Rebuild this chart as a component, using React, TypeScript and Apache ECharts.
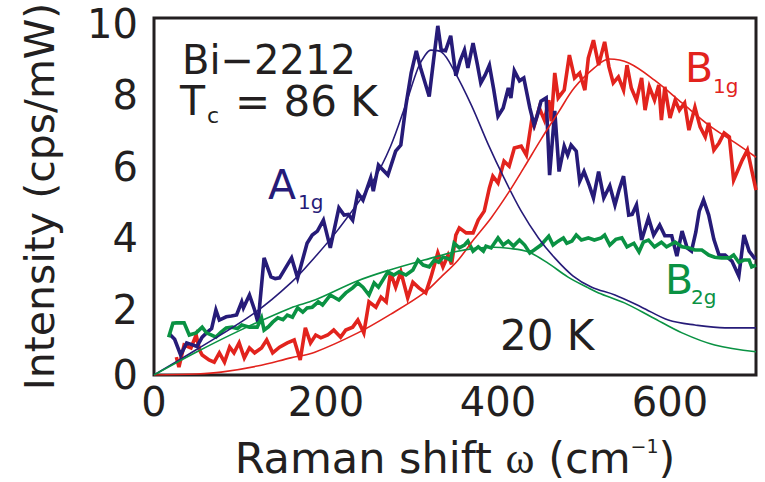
import React, { useEffect, useRef } from "react";
import * as echarts from "echarts";

// Raman spectra of Bi-2212 at 20 K: measured points [ω (cm^-1), intensity (cps/mW)]
const a1gData: number[][] = [
  [18, 1.15], [24, 1.0], [31, 0.56], [38, 0.9], [44, 0.85], [50, 0.8], [56, 1.06], [62, 1.2],
  [67, 1.3], [72, 1.82], [76, 1.54], [84, 1.63], [90, 1.65], [96, 1.68], [102, 2.05], [104, 1.88],
  [111, 2.24], [117, 1.82], [121, 1.46], [128, 3.28], [136, 2.75], [141, 2.7], [146, 2.72],
  [153, 3.0], [160, 3.28], [167, 2.72], [172, 3.16], [178, 3.69], [184, 3.92], [190, 4.03],
  [197, 4.34], [205, 3.56], [215, 4.68], [221, 4.48], [226, 4.5], [231, 4.34], [237, 5.1],
  [243, 4.9], [252, 5.52], [255, 5.15], [261, 5.88], [266, 5.75], [272, 5.6], [281, 6.27],
  [287, 6.44], [293, 7.56], [299, 8.46], [305, 9.08], [310, 8.6], [315, 8.2], [320, 7.8],
  [325, 8.8], [330, 9.78], [334, 9.1], [339, 9.08], [345, 9.5], [351, 8.38], [356, 8.8],
  [361, 9.1], [365, 8.6], [371, 9.3], [376, 8.7], [380, 8.18], [385, 8.4], [390, 8.68],
  [395, 8.0], [400, 7.25], [406, 7.48], [412, 8.04], [415, 7.76], [419, 8.52], [425, 8.24],
  [430, 8.32], [437, 7.48], [442, 7.0], [446, 7.3], [450, 7.67], [456, 7.76], [460, 5.6],
  [466, 7.4], [471, 5.7], [477, 6.41], [481, 6.16], [485, 6.44], [491, 6.27], [495, 5.43],
  [500, 5.7], [506, 5.32], [511, 4.96], [517, 5.7], [523, 4.96], [530, 5.3], [536, 4.76],
  [541, 5.2], [546, 5.57], [552, 4.48], [556, 4.5], [561, 4.76], [567, 3.78], [575, 4.4],
  [581, 3.92], [588, 4.2], [594, 3.9], [602, 3.9], [608, 3.33], [614, 4.03], [620, 3.56],
  [625, 3.47], [630, 4.0], [634, 4.59], [639, 4.9], [645, 4.48], [651, 3.8], [657, 3.36],
  [664, 3.36], [672, 3.19], [680, 2.77], [686, 3.92], [692, 3.47], [698, 3.28], [700, 3.3],
];

const b1gData: number[][] = [
  [26, 0.5], [29, 0.22], [35, 0.84], [43, 0.76], [49, 1.12], [53, 0.7], [56, 0.56], [64, 0.42],
  [70, 0.36], [76, 0.62], [82, 0.36], [88, 0.78], [93, 0.62], [99, 0.9], [105, 0.48], [111, 0.76],
  [117, 0.62], [125, 0.76], [131, 0.98], [138, 0.62], [146, 0.78], [155, 0.9], [163, 0.98],
  [170, 0.42], [176, 1.32], [182, 0.9], [188, 1.12], [194, 1.04], [202, 1.12], [209, 1.26],
  [217, 1.06], [223, 1.26], [231, 1.34], [237, 1.54], [244, 1.18], [250, 2.05], [258, 1.9],
  [264, 2.18], [270, 2.05], [275, 2.86], [281, 2.46], [287, 2.89], [295, 2.16], [301, 2.6],
  [308, 2.44], [316, 2.3], [322, 2.74], [330, 3.42], [336, 3.03], [342, 3.36], [346, 3.1],
  [351, 3.92], [355, 4.12], [363, 3.98], [371, 3.98], [377, 4.34], [384, 4.59], [390, 5.24],
  [394, 5.57], [400, 5.38], [407, 5.99], [413, 5.85], [419, 6.36], [427, 6.41], [433, 6.16],
  [439, 7.11], [442, 6.97], [448, 7.48], [454, 7.14], [459, 7.7], [462, 7.11], [466, 8.46],
  [470, 7.76], [477, 7.98], [483, 8.96], [489, 8.32], [495, 8.46], [501, 7.98], [505, 8.88],
  [511, 9.38], [517, 8.68], [524, 9.33], [529, 8.63], [534, 8.18], [540, 8.35], [546, 7.98],
  [550, 8.68], [555, 8.04], [561, 7.7], [567, 8.32], [571, 7.42], [576, 8.07], [582, 7.7],
  [587, 8.12], [590, 7.14], [594, 8.07], [600, 7.2], [606, 7.7], [611, 7.42], [617, 7.62],
  [622, 6.86], [629, 7.5], [635, 6.95], [641, 6.67], [645, 7.06], [651, 6.3], [657, 6.5],
  [663, 6.78], [669, 6.67], [674, 5.46], [684, 6.02], [690, 6.3], [695, 5.74], [700, 5.18],
];

const b2gData: number[][] = [
  [17, 1.06], [22, 1.45], [26, 1.46], [35, 1.46], [41, 1.12], [49, 1.18], [56, 1.34], [61, 1.18],
  [67, 1.12], [72, 1.06], [78, 1.2], [84, 1.32], [91, 1.34], [97, 1.3], [102, 1.4], [111, 1.34],
  [120, 1.34], [125, 1.6], [128, 1.26], [133, 1.35], [138, 1.48], [144, 1.6], [150, 1.55],
  [155, 1.68], [161, 1.62], [167, 1.88], [173, 1.76], [178, 1.88], [184, 1.9], [191, 2.05],
  [196, 1.96], [205, 2.24], [215, 2.1], [223, 2.3], [231, 2.44], [237, 2.58], [243, 2.46],
  [250, 2.24], [256, 2.58], [261, 2.46], [272, 2.89], [279, 2.8], [285, 2.89], [293, 2.8],
  [301, 2.94], [307, 3.22], [313, 3.08], [320, 3.03], [326, 3.22], [331, 3.16], [336, 3.3],
  [340, 3.28], [345, 3.22], [349, 3.69], [355, 3.56], [361, 3.64], [365, 3.75], [371, 3.47],
  [377, 3.59], [383, 3.47], [386, 3.61], [392, 3.56], [400, 3.84], [406, 3.64], [412, 3.75],
  [418, 3.61], [425, 3.78], [431, 3.64], [437, 3.42], [442, 3.5], [450, 3.64], [459, 3.89],
  [464, 3.64], [470, 3.75], [476, 3.84], [480, 3.69], [486, 3.75], [491, 3.92], [497, 3.78],
  [505, 3.84], [512, 3.78], [520, 3.84], [524, 3.92], [530, 3.64], [537, 3.8], [544, 3.84],
  [550, 3.59], [558, 3.69], [564, 3.45], [569, 3.72], [575, 3.78], [582, 3.59], [590, 3.72],
  [596, 3.59], [606, 3.72], [614, 3.59], [622, 3.56], [629, 3.5], [637, 3.5], [645, 3.36],
  [652, 3.3], [660, 3.28], [669, 3.28], [674, 3.36], [680, 3.16], [686, 3.22], [692, 3.22],
  [695, 3.03], [700, 3.08],
];

// Model fits for each symmetry channel
const a1gFit: number[][] = [
  [0, 0], [50, 0.72], [117, 1.74], [160, 2.6], [187, 3.3], [215, 4.1], [255, 5.45], [275, 6.4],
  [293, 7.6], [307, 8.6], [315, 8.95], [322, 9.1], [334, 9.05], [349, 8.52], [369, 7.56],
  [389, 6.44], [407, 5.52], [427, 4.59], [447, 3.84], [466, 3.28], [487, 2.78], [509, 2.46],
  [536, 2.24], [567, 1.9], [598, 1.54], [629, 1.4], [664, 1.32], [700, 1.32],
];

const b1gFit: number[][] = [
  [0, 0], [50, 0.03], [78, 0.08], [120, 0.25], [159, 0.48], [187, 0.64], [237, 1.18], [275, 1.7],
  [314, 2.3], [334, 2.75], [353, 3.2], [372, 3.8], [392, 4.4], [412, 5.1], [430, 5.8], [450, 6.6],
  [470, 7.35], [489, 8.05], [512, 8.6], [529, 8.85], [552, 8.74], [582, 8.26], [614, 7.62],
  [645, 7.0], [676, 6.5], [700, 6.1],
];

const b2gFit: number[][] = [
  [0, 0], [50, 0.65], [100, 1.25], [159, 1.88], [187, 2.1], [237, 2.64], [275, 2.95], [314, 3.22],
  [350, 3.45], [377, 3.56], [395, 3.58], [412, 3.55], [435, 3.45], [459, 3.12], [481, 2.75],
  [505, 2.44], [517, 2.3], [547, 2.02], [579, 1.62], [614, 1.18], [652, 0.84], [700, 0.65],
];

const NAVY = "#261b78";
const RED = "#e2231d";
const GREEN = "#0a9243";
const INK = "#231f20";
const FONT = "DejaVu Sans";

const dataLine = (name: string, data: number[][], color: string, z: number) => ({
  name,
  type: "line",
  data,
  showSymbol: false,
  symbol: "none",
  lineStyle: { width: 3.6, color, join: "miter" },
  itemStyle: { color },
  z,
});

const fitLine = (name: string, data: number[][], color: string) => ({
  name,
  type: "line",
  data,
  smooth: 0.35,
  showSymbol: false,
  symbol: "none",
  lineStyle: { width: 1.6, color },
  itemStyle: { color },
  z: 10,
});

// Free text placed by its left edge and vertical centre
const text = (x: number, y: number, str: string, color: string, size: number) => ({
  type: "text",
  x,
  y,
  style: {
    text: str,
    font: `${size}px "${FONT}"`,
    lineHeight: Math.round(size * 0.85),
    fill: color,
    textAlign: "left",
    textVerticalAlign: "middle",
  },
  z: 20,
});

export default function App() {
  const ref = useRef<HTMLDivElement>(null);

  useEffect(() => {
    if (!ref.current) return;
    const chart = echarts.init(ref.current, undefined, { renderer: "svg" });
    chart.setOption({
      animation: false,
      backgroundColor: "#ffffff",
      grid: {
        left: 154,
        right: 9,
        top: 18,
        bottom: 107,
        show: true,
        borderColor: INK,
        borderWidth: 3,
        backgroundColor: "transparent",
        containLabel: false,
        outerBoundsMode: "none",
      },
      xAxis: {
        type: "value",
        min: 0,
        max: 700,
        interval: 200,
        name: "{a|Raman shift }{w|ω}{a| (cm}{p|−1}{a|)}",
        nameLocation: "middle",
        nameGap: 61,
        nameTextStyle: {
          rich: {
            a: { fontSize: 43, fontFamily: FONT, color: INK, lineHeight: 44 },
            w: { fontSize: 44, fontFamily: "Liberation Serif", color: INK, lineHeight: 44 },
            p: { fontSize: 19, fontFamily: FONT, color: INK, lineHeight: 18, verticalAlign: "top" },
          },
        },
        axisLine: { show: false },
        axisTick: { show: false },
        splitLine: { show: false },
        axisLabel: {
          showMaxLabel: false,
          fontSize: 40,
          fontFamily: FONT,
          color: INK,
          margin: 7,
        },
      },
      yAxis: {
        type: "value",
        min: 0,
        max: 10,
        interval: 2,
        name: "Intensity (cps/mW)",
        nameLocation: "middle",
        nameGap: 94,
        nameTextStyle: { fontSize: 41, fontFamily: FONT, color: INK },
        axisLine: { show: false },
        axisTick: { show: false },
        splitLine: { show: false },
        axisLabel: {
          margin: 16,
          fontSize: 40,
          fontFamily: FONT,
          color: INK,
          lineHeight: 12,
          verticalAlign: "top",
          verticalAlignMinLabel: "middle",
        },
      },
      series: [
        dataLine("B1g", b1gData, RED, 3),
        dataLine("A1g", a1gData, NAVY, 4),
        dataLine("B2g", b2gData, GREEN, 5),
        fitLine("A1g fit", a1gFit, NAVY),
        fitLine("B1g fit", b1gFit, RED),
        fitLine("B2g fit", b2gFit, GREEN),
      ],
      graphic: [
        text(182, 60, "Bi−2212", INK, 40),
        text(180, 101, "T", INK, 41),
        text(207, 115, "c", INK, 22),
        text(235, 101, "= 86 K", INK, 42),
        text(268, 185, "A", NAVY, 41),
        text(298, 202, "1g", NAVY, 20),
        text(685, 68, "B", RED, 41),
        text(713, 86, "1g", RED, 20),
        text(665, 280, "B", GREEN, 41),
        text(691, 297, "2g", GREEN, 20),
        text(500, 335, "20 K", INK, 42),
      ],
    });
    return () => chart.dispose();
  }, []);

  return (
    <div
      ref={ref}
      style={{ position: "fixed", left: 0, top: 0, width: 765, height: 482, background: "#fff" }}
    />
  );
}
